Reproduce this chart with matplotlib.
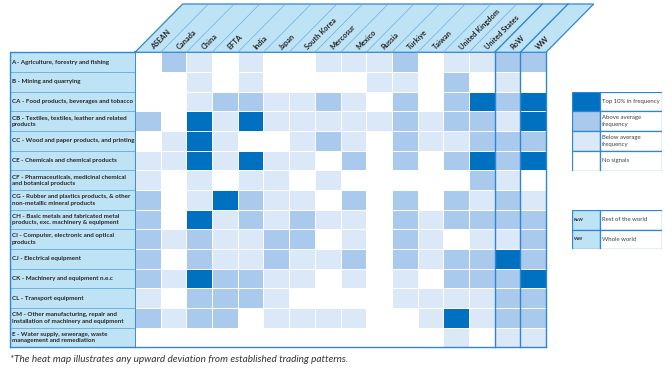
import numpy as np
import matplotlib.pyplot as plt
from matplotlib.colors import ListedColormap, BoundaryNorm
from matplotlib.patches import Polygon

plt.rcParams['font.family'] = ['Lato', 'DejaVu Sans']

countries = ['ASEAN', 'Canada', 'China', 'EFTA', 'India', 'Japan', 'South Korea',
             'Mercosur', 'Mexico', 'Russia', 'Türkiye', 'Taiwan', 'United Kingdom',
             'United States', 'RoW', 'WW']
sectors = [
    'A - Agriculture, forestry and fishing',
    'B - Mining and quarrying',
    'CA - Food products, beverages and tobacco',
    'CB - Textiles, textiles, leather and related\nproducts',
    'CC - Wood and paper products, and printing',
    'CE - Chemicals and chemical products',
    'CF - Pharmaceuticals, medicinal chemical\nand botanical products',
    'CG - Rubber and plastics products, & other\nnon-metallic mineral products',
    'CH - Basic metals and fabricated metal\nproducts, exc. machinery & equipment',
    'CI - Computer, electronic and optical\nproducts',
    'CJ - Electrical equipment',
    'CK - Machinery and equipment n.e.c',
    'CL - Transport equipment',
    'CM - Other manufacturing, repair and\ninstallation of machinery and equipment',
    'E - Water supply, sewerage, waste\nmanagement and remediation',
]
# 0 = no signals, 1 = below average, 2 = above average, 3 = top 10%
signal = [
    [0, 2, 1, 0, 1, 0, 0, 1, 1, 1, 2, 0, 1, 1, 2, 2],
    [0, 0, 1, 0, 1, 0, 0, 0, 0, 1, 1, 0, 2, 0, 1, 0],
    [0, 0, 1, 2, 2, 1, 1, 2, 1, 0, 2, 0, 2, 3, 2, 3],
    [2, 0, 3, 1, 3, 1, 1, 1, 1, 1, 2, 1, 2, 2, 1, 3],
    [0, 1, 3, 1, 0, 0, 1, 2, 1, 0, 2, 1, 1, 2, 2, 2],
    [1, 1, 3, 1, 3, 1, 1, 0, 2, 0, 2, 0, 2, 3, 2, 3],
    [1, 0, 1, 0, 1, 1, 0, 1, 0, 0, 0, 0, 0, 2, 1, 0],
    [2, 0, 1, 3, 2, 1, 1, 0, 2, 0, 2, 0, 2, 1, 2, 1],
    [2, 0, 3, 1, 2, 1, 2, 1, 1, 0, 2, 1, 2, 2, 2, 2],
    [2, 1, 2, 1, 1, 2, 2, 0, 1, 0, 2, 1, 0, 1, 1, 2],
    [2, 0, 2, 1, 1, 2, 1, 1, 2, 0, 2, 1, 2, 2, 3, 2],
    [2, 1, 3, 2, 2, 1, 1, 0, 1, 0, 1, 0, 2, 2, 2, 3],
    [1, 0, 2, 2, 2, 1, 0, 0, 0, 0, 1, 1, 1, 1, 2, 2],
    [2, 1, 2, 2, 0, 1, 1, 1, 1, 0, 0, 1, 3, 1, 2, 2],
    [0, 0, 0, 0, 0, 0, 0, 0, 0, 0, 0, 0, 1, 0, 1, 1],
]
levels = ['Top 10% in frequency', 'Above average\nfrequency',
          'Below average\nfrequency', 'No signals']
level_colors = ['#0070C0', '#A9CAEC', '#DBE8F7', '#FFFFFF']
abbrevs = ['RoW', 'WW']
abbrev_text = ['Rest of the world', 'Whole world']
note = '*The heat map illustrates any upward deviation from established trading patterns.'

W, H = 672, 372
head_col = '#BEE3F5'
line_col = '#2E86D4'
thin_col = '#6AAEE3'
txt_col = '#262626'


def px_rect(x0, y0, x1, y1):
    return [x0 / W, 1 - y1 / H, (x1 - x0) / W, (y1 - y0) / H]


fig = plt.figure(figsize=(W / 100, H / 100), dpi=100)

# heat map grid
gx0, gy0, gx1, gy1 = 135, 52.3, 546, 347.3
ncol, nrow = len(countries), len(sectors)
cw = (gx1 - gx0) / ncol
rh = (gy1 - gy0) / nrow
ax = fig.add_axes(px_rect(gx0, gy0, gx1, gy1))
cmap = ListedColormap(level_colors[::-1])
norm = BoundaryNorm([-0.5, 0.5, 1.5, 2.5, 3.5], 4)
ax.pcolormesh(np.array(signal), cmap=cmap, norm=norm, edgecolors='white', linewidth=0.4)
ax.set_xlim(0, ncol)
ax.set_ylim(nrow, 0)
ax.axis('off')

# slanted header
dx = 47.7 / cw
dy = 48.3 / rh
ax.add_patch(Polygon([(0, 0), (ncol, 0), (ncol + dx, -dy), (dx, -dy)], closed=True,
                     facecolor=head_col, edgecolor=line_col, lw=0.9, clip_on=False))
for i in range(1, ncol):
    heavy = i >= ncol - 2
    ax.plot([i, i + dx], [0, -dy], color=line_col if heavy else thin_col,
            lw=1.0 if heavy else 0.5, clip_on=False)
for i, name in enumerate(countries):
    ax.text(i + 0.5 + 4 / cw, -4 / rh, name, rotation=45, rotation_mode='anchor',
            ha='left', va='center', fontsize=5.3, fontweight='bold', color=txt_col)

# borders
for x in [ncol - 2, ncol - 1, ncol]:
    ax.plot([x, x], [0, nrow], color=line_col, lw=1.0, clip_on=False)
ax.plot([0, 0], [0, nrow], color=line_col, lw=1.3, clip_on=False)
ax.plot([0, ncol], [nrow, nrow], color=line_col, lw=1.0, clip_on=False)

# row labels
lab = fig.add_axes(px_rect(10, gy0, gx0, gy1))
lab.barh(np.arange(nrow) + 0.5, 1, height=1, color=head_col, edgecolor=thin_col, lw=0.6)
for r, s in enumerate(sectors):
    lab.text(0.012, r + 0.5, s, ha='left', va='center', fontsize=4.5, fontweight='bold',
             color=txt_col, linespacing=1.4)
lab.set_xlim(0, 1)
lab.set_ylim(nrow, 0)
lab.axis('off')
lab.plot([0, 0, 1], [nrow, 0, 0], color=line_col, lw=1.0, clip_on=False)
lab.plot([0, 1], [nrow, nrow], color=line_col, lw=1.0, clip_on=False)

# legend: frequency levels
leg = fig.add_axes(px_rect(572, 91.7, 662, 170.7))
pos = np.arange(len(levels)) + 0.5
leg.barh(pos, 28, height=1, color=level_colors, edgecolor=line_col, lw=0.9)
leg.barh(pos, 62, left=28, height=1, color='white', edgecolor=line_col, lw=0.9)
for p, t in zip(pos, levels):
    leg.text(29.5, p, t, ha='left', va='center', fontsize=4.3, color='#404040',
             linespacing=1.45)
leg.set_xlim(0, 90)
leg.set_ylim(len(levels), 0)
leg.axis('off')

# legend: abbreviations
leg2 = fig.add_axes(px_rect(572, 210, 662, 249.3))
pos2 = np.arange(len(abbrevs)) + 0.5
leg2.barh(pos2, 28, height=1, color=head_col, edgecolor=line_col, lw=0.9)
leg2.barh(pos2, 62, left=28, height=1, color='white', edgecolor=line_col, lw=0.9)
for p, a, t in zip(pos2, abbrevs, abbrev_text):
    leg2.text(1.5, p, a, ha='left', va='center', fontsize=3.2, fontweight='bold', color=txt_col)
    leg2.text(29.5, p, t, ha='left', va='center', fontsize=4.3, color='#404040')
leg2.set_xlim(0, 90)
leg2.set_ylim(len(abbrevs), 0)
leg2.axis('off')

fig.text(10 / W, 1 - 360 / H, note, ha='left', va='center', fontsize=7.2,
         style='italic', color='#333333')

fig.savefig('out.png', dpi=100)
